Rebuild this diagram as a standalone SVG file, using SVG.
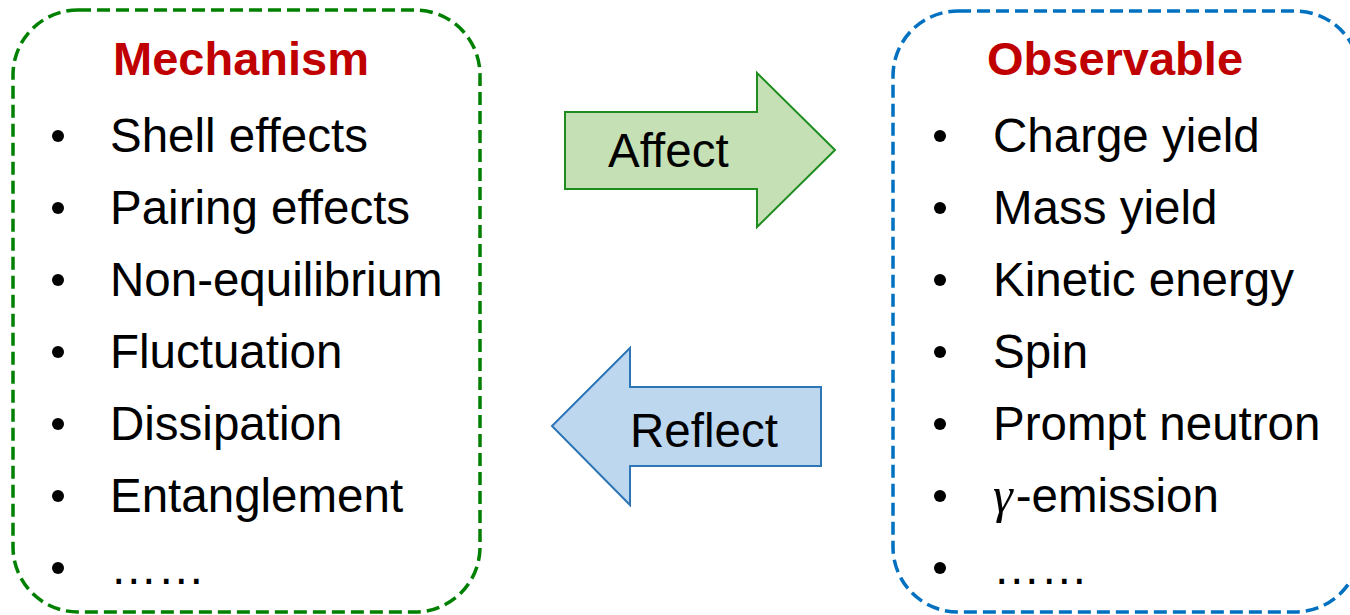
<svg xmlns="http://www.w3.org/2000/svg" width="1350" height="615" viewBox="0 0 1350 615">
<style>
.t{font-family:"Liberation Sans",Arial,sans-serif;font-size:47.5px;fill:#000}
.h{font-family:"Liberation Sans",Arial,sans-serif;font-size:47px;font-weight:bold;fill:#C00000}
.g{font-family:"Liberation Serif","DejaVu Serif",serif;font-style:italic;font-size:50px;fill:#000}
.b{fill:#000}
</style>
<rect width="1350" height="615" fill="#fff"/>
<g id="mechanism">
<rect x="13" y="10" width="467" height="602" rx="65" ry="65" fill="none" stroke="#008000" stroke-width="3.5" stroke-dasharray="13 6"/>
<text class="h" x="113" y="75">Mechanism</text>
<g class="b"><circle cx="58" cy="136" r="6"/><circle cx="58" cy="208" r="6"/><circle cx="58" cy="280" r="6"/><circle cx="58" cy="352" r="6"/><circle cx="58" cy="424" r="6"/><circle cx="58" cy="496" r="6"/><circle cx="58" cy="568" r="6"/></g>
<text class="t" x="110" y="152">Shell effects</text>
<text class="t" x="110" y="224">Pairing effects</text>
<text class="t" x="110" y="296">Non-equilibrium</text>
<text class="t" x="110" y="368">Fluctuation</text>
<text class="t" x="110" y="440">Dissipation</text>
<text class="t" x="110" y="512">Entanglement</text>
<text class="t" x="110" y="584">……</text>
</g>
<g id="observable">
<rect x="893" y="11" width="467" height="601" rx="65" ry="65" fill="none" stroke="#0070C0" stroke-width="3.5" stroke-dasharray="13 6"/>
<text class="h" x="987" y="75">Observable</text>
<g class="b"><circle cx="940" cy="136" r="6"/><circle cx="940" cy="208" r="6"/><circle cx="940" cy="280" r="6"/><circle cx="940" cy="352" r="6"/><circle cx="940" cy="424" r="6"/><circle cx="940" cy="496" r="6"/><circle cx="940" cy="568" r="6"/></g>
<text class="t" x="993" y="152">Charge yield</text>
<text class="t" x="993" y="224">Mass yield</text>
<text class="t" x="993" y="296">Kinetic energy</text>
<text class="t" x="993" y="368">Spin</text>
<text class="t" x="993" y="440">Prompt neutron</text>
<text x="993" y="512"><tspan class="g">γ</tspan><tspan class="t" dx="3">-emission</tspan></text>
<text class="t" x="993" y="584">……</text>
</g>
<g id="connectors">
<g id="affect">
<polygon points="565,112 757,112 757,73 835,150 757,227 757,189 565,189" fill="#C5E0B4" stroke="#1E8C1E" stroke-width="2"/>
<text class="t" x="608" y="167">Affect</text>
</g>
<g id="reflect">
<polygon points="821,387 630,387 630,348 552,426 630,505 630,466 821,466" fill="#BDD7EE" stroke="#2E75B6" stroke-width="2"/>
<text class="t" x="630" y="447">Reflect</text>
</g>
</g>
</svg>
